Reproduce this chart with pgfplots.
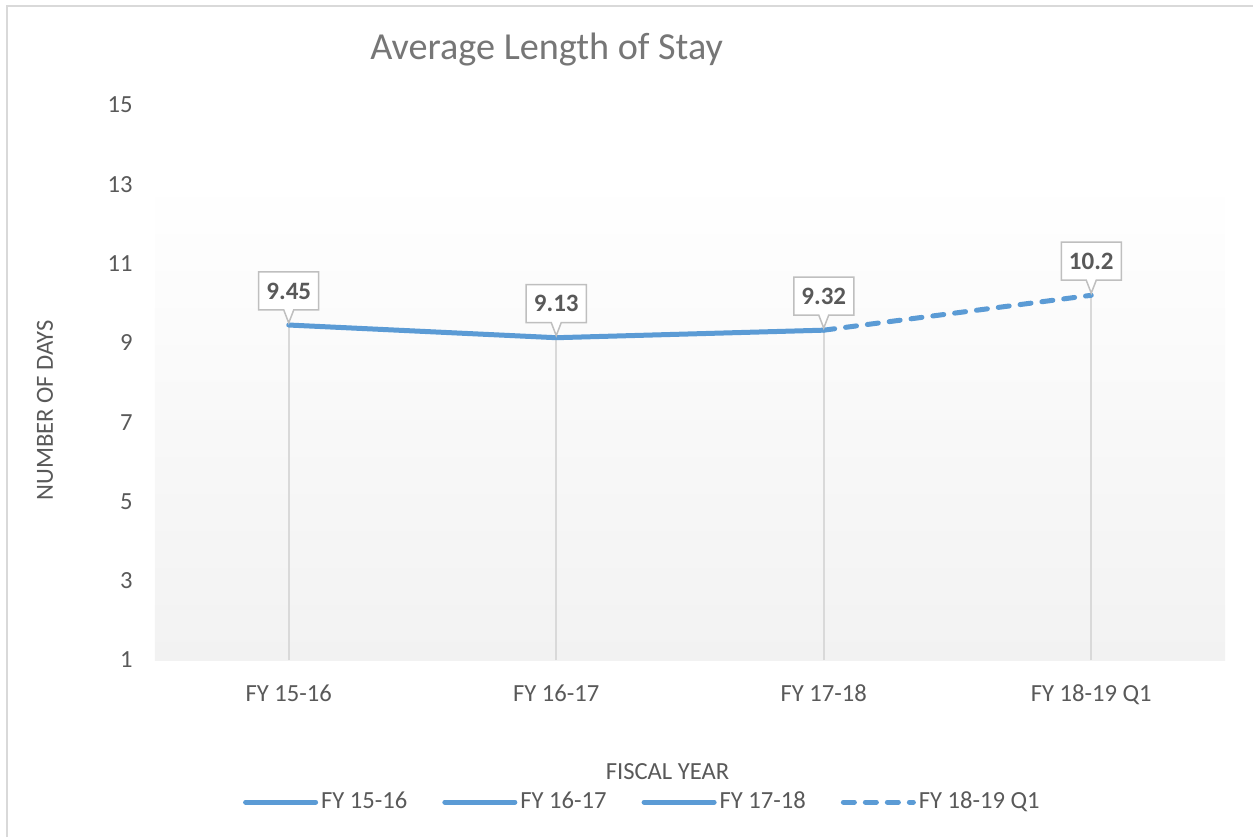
\documentclass[border=0pt]{standalone}
\usepackage{pgfplots}
\pgfplotsset{compat=1.18}
\usepackage{fontspec}
\setmainfont{Carlito}
\usetikzlibrary{shapes.callouts}
\definecolor{lineblue}{HTML}{5B9BD5}
\definecolor{txt}{HTML}{595959}
\definecolor{ttl}{HTML}{767676}
\definecolor{gridc}{HTML}{D9D9D9}
\definecolor{bg}{HTML}{F2F2F2}
\definecolor{boxc}{HTML}{BFBFBF}
\begin{document}
\begin{tikzpicture}
\useasboundingbox (-77.5pt,-88.5pt) rectangle (549pt,330pt);
\draw[gridc, line width=1pt] (-74pt,-88.5pt) -- (-74pt,327pt) -- (549pt,327pt);
\begin{axis}[
  at={(0,0)}, anchor=south west, scale only axis,
  width=535pt, height=277.5pt,
  xmin=-0.5, xmax=3.5, ymin=1, ymax=15,
  xtick={0,1,2,3},
  xticklabels={FY 15-16, FY 16-17, FY 17-18, FY 18-19 Q1},
  ytick={1,3,...,15},
  axis lines*=left,
  x axis line style={gridc, line width=1pt},
  y axis line style={draw=none},
  tick style={draw=none},
  /pgf/number format/assume math mode=true,
  ticklabel style={font=\fontsize{12.3}{14}\selectfont, text=txt},
  yticklabel style={inner sep=0pt, anchor=east, xshift=-11pt},
  xticklabel style={inner sep=0pt, anchor=north, yshift=-12pt},
  title={Average Length of Stay},
  title style={at={(axis description cs:0.366,1.078)}, anchor=center, font=\fontsize{19.1}{22}\selectfont, text=ttl},
  xlabel={FISCAL YEAR},
  xlabel style={at={(axis description cs:0.479,-0.2018)}, anchor=center, font=\fontsize{12.3}{14}\selectfont, text=txt},
  ylabel={NUMBER OF DAYS},
  ylabel style={at={(axis description cs:-0.1028,0.45)}, anchor=center, font=\fontsize{12.3}{14}\selectfont, text=txt},
  legend columns=4,
  legend style={at={(axis description cs:0.456,-0.2559)}, anchor=center, draw=none, fill=none,
    font=\fontsize{12.3}{14}\selectfont, text=txt,
    /tikz/every even column/.append style={column sep=16pt},
    nodes={inner sep=1.5pt}},
  legend cell align=left,
  legend image code/.code={\draw[#1] (0pt,0pt) -- (35pt,0pt);},
]
\fill[top color=white, bottom color=bg] (axis cs:-0.5,1) rectangle (axis cs:3.5,13.15);
\addplot[ycomb, gridc, line width=1pt, forget plot] coordinates {(0,9.45) (1,9.13) (2,9.32) (3,10.2)};
\addplot[lineblue, line width=2.5pt, line cap=round, line join=round, forget plot] coordinates {(0,9.45) (1,9.13) (2,9.32)};
\addplot[lineblue, line width=2.5pt, line cap=round, dash pattern=on 5.5pt off 5.5pt, forget plot] coordinates {(2,9.32) (3,10.2)};
\addplot[draw=none, forget plot, nodes near coords, point meta=explicit symbolic,
  nodes near coords align={anchor=pointer},
  every node near coord/.append style={shape=rectangle callout, draw=boxc, fill=white, line width=0.75pt,
    text=txt, font=\bfseries\fontsize{12.5}{14}\selectfont, minimum width=30pt, minimum height=19pt,
    inner sep=2pt, callout relative pointer={(0pt,-6.5pt)}, callout pointer width=5pt, anchor=pointer}]
  table[meta=lab] {
x y lab
0 9.45 9.45
1 9.13 9.13
2 9.32 9.32
3 10.2 10.2
};
\addlegendimage{lineblue, line width=2.5pt, line cap=round}
\addlegendentry{FY 15-16}
\addlegendimage{lineblue, line width=2.5pt, line cap=round}
\addlegendentry{FY 16-17}
\addlegendimage{lineblue, line width=2.5pt, line cap=round}
\addlegendentry{FY 17-18}
\addlegendimage{lineblue, line width=2.5pt, line cap=round, dash pattern=on 5.5pt off 5.5pt}
\addlegendentry{FY 18-19 Q1}
\end{axis}
\end{tikzpicture}
\end{document}
